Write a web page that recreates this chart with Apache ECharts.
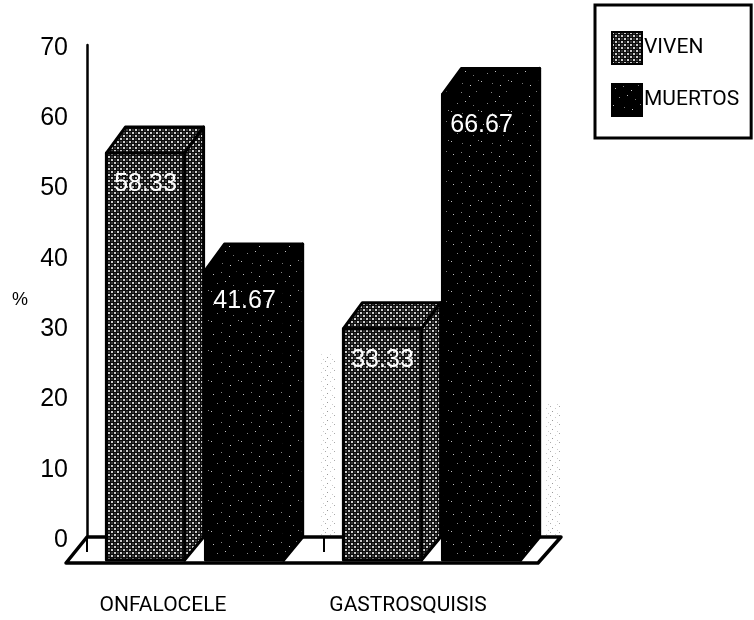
<!DOCTYPE html>
<html>
<head>
<meta charset="utf-8">
<style>html,body{margin:0;padding:0;background:#fff}#c{width:754px;height:620px}</style>
<script src="https://cdn.jsdelivr.net/npm/echarts@6/dist/echarts.min.js"></script>
</head>
<body>
<div id="c"></div>
<script>
var categories = ['ONFALOCELE', 'GASTROSQUISIS'];
var viven = [58.33, 33.33];
var muertos = [41.67, 66.67];
var speckleLevels = [26, 19];

var FONT = '"Liberation Sans", Arial, sans-serif';
var TALL = 'Roboto, "Liberation Sans", Arial, sans-serif';
var DX = 19, DY = 26, FLOOR_DX = 21;

function makePattern(size, bg, dots) {
  var c = document.createElement('canvas');
  c.width = c.height = size;
  var g = c.getContext('2d');
  if (bg) { g.fillStyle = bg; g.fillRect(0, 0, size, size); }
  dots.forEach(function (d) { g.fillStyle = d[2]; g.fillRect(d[0], d[1], d[3] || 1, d[3] || 1); });
  return { image: c, repeat: 'repeat' };
}
var lightFill = makePattern(6, '#0c0c0c', [[0,0,'#ccc',2],[3,3,'#ccc',2],[3,0,'#3a3a3a',2],[0,3,'#3a3a3a',2]]);
var darkFill = makePattern(30, '#000', [[3,4,'#bbb'],[11,2,'#888'],[19,6,'#ccc'],[26,1,'#777'],[7,13,'#888'],[15,11,'#bbb'],[23,15,'#777'],[1,21,'#bbb'],[12,23,'#777'],[20,25,'#ccc'],[28,20,'#888']]);
var speckleFill = makePattern(9, null, [[1,1,'#aaa'],[6,3,'#ccc'],[3,6,'#999'],[8,8,'#ccc']]);

function barRender(values, slot, fill) {
  return function (params, api) {
    var i = api.value(0), v = api.value(1);
    var band = api.size([1, 0])[0];
    var c = api.coord([i, 0]);
    var top = api.coord([i, v])[1];
    var w = band * 0.33;
    var backL = c[0] + (slot === 0 ? -0.338 : 0.08) * band;
    var fL = backL - DX, fR = fL + w, fT = top + DY, fB = c[1] + DY - 3;
    var st = { fill: fill, stroke: '#000', lineWidth: 3, lineJoin: 'round' };
    return { type: 'group', children: [
      { type: 'polygon', shape: { points: [[fL,fT],[backL,top],[backL+w,top],[fR,fT]] }, style: st },
      { type: 'polygon', shape: { points: [[fR,fT],[backL+w,top],[backL+w,c[1]],[fR,fB]] }, style: st },
      { type: 'rect', shape: { x: fL, y: fT, width: w, height: fB - fT }, style: st },
      { type: 'text', x: fL + w / 2, y: fT + 31, style: {
        text: v.toFixed(2), fill: '#fff', font: '25px ' + FONT, align: 'center', verticalAlign: 'middle' } }
    ] };
  };
}

function floorRender(params, api) {
  var cs = params.coordSys;
  var band = api.size([1, 0])[0];
  var y0 = cs.y + cs.height, x0 = cs.x, x1 = cs.x + cs.width;
  var kids = [
    { type: 'polygon', shape: { points: [[x0,y0],[x1,y0],[x1-FLOOR_DX-2,y0+DY],[x0-FLOOR_DX,y0+DY]] },
      style: { fill: '#fff', stroke: '#000', lineWidth: 3.5, lineJoin: 'round' } }
  ];
  categories.forEach(function (n, i) {
    kids.push({ type: 'line', shape: { x1: x0 + i * band, y1: y0, x2: x0 + i * band, y2: y0 + 15 },
      style: { stroke: '#000', lineWidth: 2 } });
  });
  var sp = [x0 + band - 5, x1 - 17];
  speckleLevels.forEach(function (lvl, i) {
    var t = api.coord([0, lvl])[1];
    kids.push({ type: 'rect', shape: { x: sp[i], y: t, width: 17, height: y0 - t - 2 }, style: { fill: speckleFill } });
  });
  return { type: 'group', children: kids };
}

var chart = echarts.init(document.getElementById('c'), null, { renderer: 'canvas' });
chart.setOption({
  animation: false,
  backgroundColor: '#fff',
  textStyle: { fontFamily: FONT },
  grid: [
    { left: 87, top: 45, width: 474, height: 492 },
    { left: 40.5, top: 45, width: 490, height: 492 }
  ],
  legend: {
    data: [{ name: 'VIVEN', icon: 'rect' }, { name: 'MUERTOS', icon: 'rect' }],
    orient: 'vertical', left: 595, top: 5,
    padding: [26, 12, 21, 16],
    itemWidth: 30, itemHeight: 32, itemGap: 18,
    borderColor: '#000', borderWidth: 3,
    textStyle: { fontSize: 21, color: '#000', fontFamily: TALL, padding: [8, 0, 0, -3] }
  },
  xAxis: [
    { type: 'category', gridIndex: 0, data: categories, show: false },
    { type: 'category', gridIndex: 1, data: categories,
      axisLine: { show: false }, axisTick: { show: false },
      axisLabel: { margin: 58, interval: 0, fontSize: 21, color: '#000', fontFamily: TALL } }
  ],
  yAxis: [
    { type: 'value', gridIndex: 0, min: 0, max: 70, interval: 10,
      name: '%', nameLocation: 'middle', nameRotate: 0, nameGap: 59,
      nameTextStyle: { fontSize: 18, color: '#000', fontFamily: FONT, verticalAlign: 'top' },
      axisLine: { show: true, lineStyle: { color: '#000', width: 2.5 } },
      axisTick: { show: false }, splitLine: { show: false },
      axisLabel: { margin: 19, fontSize: 25, color: '#000', fontFamily: FONT,
        formatter: '{n|{value}}', rich: { n: { fontSize: 25, color: '#000', fontFamily: FONT, padding: [6, 0, 0, 0] } } } },
    { type: 'value', gridIndex: 1, min: 0, max: 70, show: false, splitLine: { show: false } }
  ],
  series: [
    { type: 'custom', xAxisIndex: 0, yAxisIndex: 0, z: 1, silent: true, renderItem: floorRender,
      data: [[0, 0]], encode: { x: 0, y: 1 } },
    { type: 'custom', name: 'VIVEN', xAxisIndex: 0, yAxisIndex: 0, z: 2,
      itemStyle: { color: lightFill, borderColor: '#000', borderWidth: 2 },
      renderItem: barRender(viven, 0, lightFill),
      data: viven.map(function (v, i) { return [i, v]; }), encode: { x: 0, y: 1 } },
    { type: 'custom', name: 'MUERTOS', xAxisIndex: 0, yAxisIndex: 0, z: 2,
      itemStyle: { color: darkFill, borderColor: '#000', borderWidth: 2 },
      renderItem: barRender(muertos, 1, darkFill),
      data: muertos.map(function (v, i) { return [i, v]; }), encode: { x: 0, y: 1 } }
  ]
});
</script>
</body>
</html>
